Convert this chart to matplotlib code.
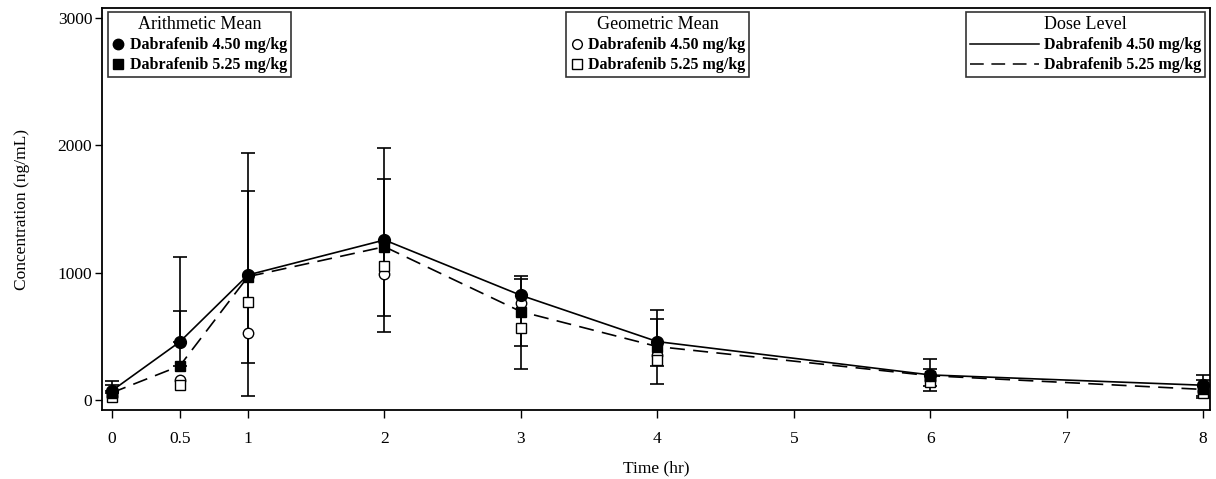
import numpy as np
import matplotlib
matplotlib.use("Agg")
import matplotlib.pyplot as plt
from matplotlib.lines import Line2D

plt.rcParams['font.family'] = ['Liberation Serif', 'DejaVu Serif']

time = [0, 0.5, 1, 2, 3, 4, 6, 8]
xticks = [0, 0.5, 1, 2, 3, 4, 5, 6, 7, 8]
xticklabels = ["0", "0.5", "1", "2", "3", "4", "5", "6", "7", "8"]
yticks = [0, 1000, 2000, 3000]

am45 = [70, 456, 982, 1257, 822, 458, 196, 115]
am525 = [55, 267, 969, 1204, 694, 419, 190, 82]
gm45 = [32, 157, 524, 990, 760, 353, 160, 70]
gm525 = [25, 118, 767, 1055, 568, 314, 140, 55]
upper45 = [152, 1123, 1938, 1977, 975, 707, 320, 196]
upper525 = [120, 700, 1644, 1734, 950, 636, 240, 160]
lower45 = [np.nan, np.nan, 34, 537, 241, 123, 105, 15]
lower525 = [np.nan, np.nan, 293, 660, 424, 267, 66, 30]

label45 = "Dabrafenib 4.50 mg/kg"
label525 = "Dabrafenib 5.25 mg/kg"

fig = plt.figure(figsize=(12.16, 4.79), dpi=100)
ax = fig.add_axes([0.0839, 0.144, 0.9111, 0.839])

def err(mean, up, lo):
    mean = np.asarray(mean, float)
    up = np.asarray(up, float)
    lo = np.asarray(lo, float)
    lower = np.where(np.isnan(lo), 0.0, mean - lo)
    upper = up - mean
    return np.vstack([lower, upper])

ax.errorbar(time, am45, yerr=err(am45, upper45, lower45), fmt='none',
            ecolor='black', elinewidth=1.2, capsize=5, capthick=1.2, zorder=2)
ax.errorbar(time, am525, yerr=err(am525, upper525, lower525), fmt='none',
            ecolor='black', elinewidth=1.2, capsize=5, capthick=1.2, zorder=2)

dash = (0, (9, 5))
ax.plot(time, am45, color='black', lw=1.2, ls='-', zorder=3)
ax.plot(time, am525, color='black', lw=1.2, ls=dash, zorder=3)

ax.plot(time, gm45, ls='none', marker='o', ms=7.5, mfc='white', mec='black', mew=1.0, zorder=4)
ax.plot(time, gm525, ls='none', marker='s', ms=7, mfc='white', mec='black', mew=1.0, zorder=4)
ax.plot(time, am45, ls='none', marker='o', ms=8.5, mfc='black', mec='black', zorder=5)
ax.plot(time, am525, ls='none', marker='s', ms=7.5, mfc='black', mec='black', zorder=5)

ax.set_xlim(-0.07, 8.05)
ax.set_ylim(-80, 3080)
ax.set_xticks(xticks)
ax.set_xticklabels(xticklabels)
ax.set_yticks(yticks)
ax.tick_params(axis='x', direction='out', length=6, width=1, labelsize=12.5, pad=9, colors='black')
ax.tick_params(axis='y', direction='out', length=5, width=1, labelsize=12.5, pad=2, colors='black')
for s in ax.spines.values():
    s.set_linewidth(1.3)
ax.set_xlabel("Time (hr)", fontsize=12.5, labelpad=10)
ax.set_ylabel("Concentration (ng/mL)", fontsize=12.5, labelpad=20)

entry_prop = {'weight': 'bold', 'size': 11.5}
common = dict(frameon=True, fancybox=False, prop=entry_prop, title_fontsize=13,
              borderpad=0.25, labelspacing=0.25, handletextpad=0.3, borderaxespad=0.0)

h1 = [Line2D([], [], ls='none', marker='o', ms=7.5, mfc='black', mec='black'),
      Line2D([], [], ls='none', marker='s', ms=7.5, mfc='black', mec='black')]
leg1 = ax.legend(h1, [label45, label525], title="Arithmetic Mean", loc='upper left',
                 bbox_to_anchor=(0.0054, 0.99), handlelength=0.8, **common)
h2 = [Line2D([], [], ls='none', marker='o', ms=7, mfc='white', mec='black'),
      Line2D([], [], ls='none', marker='s', ms=7, mfc='white', mec='black')]
leg2 = ax.legend(h2, [label45, label525], title="Geometric Mean", loc='upper left',
                 bbox_to_anchor=(0.419, 0.99), handlelength=0.8, **common)
h3 = [Line2D([], [], color='black', lw=1.1, ls='-'),
      Line2D([], [], color='black', lw=1.1, ls=dash)]
leg3 = ax.legend(h3, [label45, label525], title="Dose Level", loc='upper right',
                 bbox_to_anchor=(0.9955, 0.99), handlelength=4.3, **common)
for lg in (leg1, leg2):
    ax.add_artist(lg)
for lg in (leg1, leg2, leg3):
    fr = lg.get_frame()
    fr.set_edgecolor('#333333')
    fr.set_linewidth(1.2)
    fr.set_alpha(1)
    lg.get_title().set_fontweight('normal')

fig.savefig("out.png", dpi=100)
